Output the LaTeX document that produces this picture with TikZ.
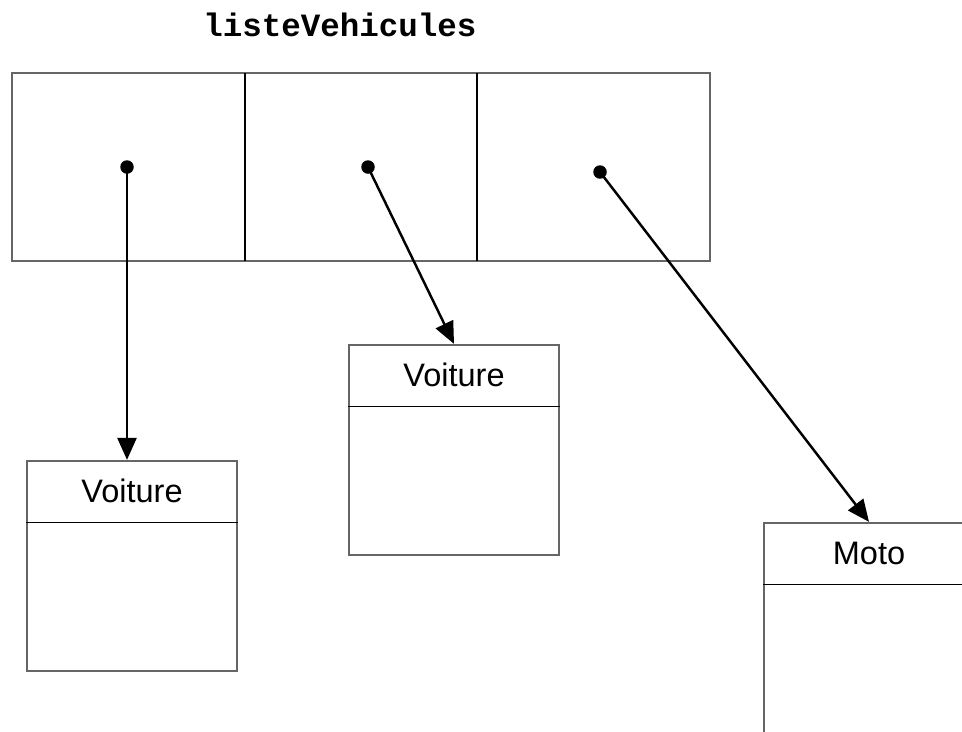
\documentclass[tikz,border=0pt]{standalone}
\usepackage{fontspec}
\setmainfont{Liberation Sans}
\newfontfamily\courier{Liberation Mono}
\usetikzlibrary{arrows.meta,positioning}

\begin{document}
\begin{tikzpicture}[x=0.02cm,y=-0.02cm,
		cadre/.style={draw=black!60,line width=1.3pt,inner sep=0pt},
		classe/.style={cadre,minimum width=4.2cm,minimum height=4.2cm},
		entete/.style={minimum height=1.24cm,inner sep=0pt,font=\fontsize{18.5}{22}\selectfont},
		point/.style={circle,fill=black,inner sep=0pt,minimum size=0.27cm},
		fleche/.style={line width=1.4pt,-{Triangle[length=0.44cm,width=0.38cm]}}]
		\clip (0,0) rectangle (962,731);
		
		\node[font=\courier\bfseries\fontsize{18.5}{22}\selectfont] (titre) at (340,25) {listeVehicules};
		
		% le tableau
		\node[cadre,minimum width=13.96cm,minimum height=3.76cm] (tab) at (361,167) {};
		\draw[line width=0.8pt] (245,73) -- (245,261);
		\draw[line width=0.8pt] (477,73) -- (477,261);
		
		\node[point] (p1) at (127,167) {};
		\node[point] (p2) at (368,167) {};
		\node[point] (p3) at (600,172) {};
		
		% les objets
		\node[classe] (v1) at (132,566) {};
		\node[entete,below=0pt of v1.north] (t1) {Voiture};
		\draw[line width=0.8pt] (t1.south -| v1.west) -- (t1.south -| v1.east);
		
		\node[classe] (v2) at (454,450) {};
		\node[entete,below=0pt of v2.north] (t2) {Voiture};
		\draw[line width=0.8pt] (t2.south -| v2.west) -- (t2.south -| v2.east);
		
		\node[classe] (v3) at (869,628) {};
		\node[entete,below=0pt of v3.north] (t3) {Moto};
		\draw[line width=0.8pt] (t3.south -| v3.west) -- (t3.south -| v3.east);
		
		\draw[fleche] (p1.center) -- (v1.north -| p1);
		\draw[fleche] (p2.center) -- (v2.north);
		\draw[fleche] (p3.center) -- (v3.north);
	\end{tikzpicture}
\end{document}
